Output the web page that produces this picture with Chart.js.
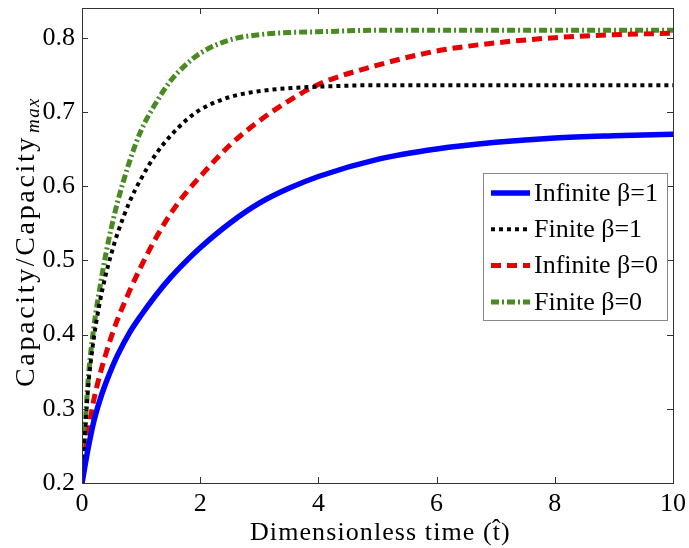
<!DOCTYPE html>
<html>
<head>
<meta charset="utf-8">
<script src="https://cdn.jsdelivr.net/npm/chart.js@4.4.1/dist/chart.umd.min.js"></script>
<style>
  html, body { margin: 0; padding: 0; background: #fff; }
  #wrap { width: 689px; height: 548px; }
</style>
</head>
<body>
<div id="wrap"><canvas id="capChart" width="689" height="548"></canvas></div>
<script>
// time samples (dimensionless)
const times = [0, 0.1, 0.2, 0.3, 0.4, 0.5, 0.6, 0.8, 1, 1.25, 1.5, 1.75, 2, 2.5, 3, 3.5, 4, 5, 6, 7, 8, 9, 10];

// series
const infiniteBeta1 = [0.2, 0.245, 0.283, 0.311, 0.334, 0.354, 0.372, 0.402, 0.426, 0.453, 0.477, 0.498, 0.517, 0.550, 0.577, 0.597, 0.613, 0.636, 0.650, 0.659, 0.665, 0.668, 0.670];
const finiteBeta1   = [0.2, 0.325, 0.395, 0.443, 0.480, 0.510, 0.536, 0.578, 0.610, 0.643, 0.668, 0.688, 0.703, 0.720, 0.728, 0.732, 0.734, 0.736, 0.736, 0.736, 0.736, 0.736, 0.736];
const infiniteBeta0 = [0.2, 0.265, 0.312, 0.345, 0.373, 0.398, 0.420, 0.458, 0.492, 0.530, 0.563, 0.590, 0.613, 0.655, 0.688, 0.715, 0.737, 0.763, 0.782, 0.793, 0.800, 0.804, 0.806];
const finiteBeta0   = [0.2, 0.335, 0.410, 0.462, 0.507, 0.545, 0.578, 0.632, 0.675, 0.712, 0.742, 0.763, 0.779, 0.797, 0.804, 0.807, 0.808, 0.810, 0.810, 0.810, 0.810, 0.810, 0.810];

const seriesNames = ['Infinite β=1', 'Finite β=1', 'Infinite β=0', 'Finite β=0'];

// tick labels
const xTicks = [0, 2, 4, 6, 8, 10];
const yTicks = [0.2, 0.3, 0.4, 0.5, 0.6, 0.7, 0.8];

const serif = '"Liberation Serif", "Times New Roman", serif';
const frameColor = '#333';

function pts(vals) {
    return vals.map((v, i) => ({ x: times[i], y: v }));
}

// draw text stretched to a target width through letter spacing
function fitText(ctx, text, x, y, width) {
    ctx.letterSpacing = '0px';
    const w = ctx.measureText(text).width;
    const extra = (width - w) / text.length;
    ctx.letterSpacing = extra.toFixed(2) + 'px';
    ctx.fillText(text, x, y);
    ctx.letterSpacing = '0px';
}

// MATLAB-like box with inward ticks
const frameBox = {
    id: 'frameBox',
    afterDatasetsDraw(chart) {
        const { ctx, chartArea: a, scales } = chart;
        ctx.save();
        ctx.strokeStyle = frameColor;
        ctx.lineWidth = 1;
        ctx.strokeRect(Math.round(a.left) + 0.5, Math.round(a.top) + 0.5,
            Math.round(a.right - a.left), Math.round(a.bottom - a.top));
        ctx.beginPath();
        xTicks.forEach(t => {
            const px = Math.round(scales.x.getPixelForValue(t)) + 0.5;
            ctx.moveTo(px, a.bottom); ctx.lineTo(px, a.bottom - 6);
            ctx.moveTo(px, a.top); ctx.lineTo(px, a.top + 6);
        });
        yTicks.forEach(t => {
            const py = Math.round(scales.y.getPixelForValue(t)) + 0.5;
            ctx.moveTo(a.left, py); ctx.lineTo(a.left + 6, py);
            ctx.moveTo(a.right, py); ctx.lineTo(a.right - 6, py);
        });
        ctx.stroke();
        ctx.restore();
    }
};

// axis titles (y one has a subscript)
const axisTitles = {
    id: 'axisTitles',
    afterDraw(chart) {
        const { ctx } = chart;
        ctx.save();
        ctx.fillStyle = '#000';
        ctx.textBaseline = 'alphabetic';
        ctx.textAlign = 'left';

        // x title
        ctx.font = '26px ' + serif;
        fitText(ctx, 'Dimensionless time (t\u0302)', 250, 540, 262);

        // y title
        ctx.translate(34, 242);
        ctx.rotate(-Math.PI / 2);
        const mainW = 252, subW = 36;
        const start = -(mainW + subW + 2) / 2;
        ctx.font = '28px ' + serif;
        fitText(ctx, 'Capacity/Capacity', start, 0, mainW);
        ctx.font = 'italic 19px ' + serif;
        fitText(ctx, 'max', start + mainW + 2, 5, subW);
        ctx.restore();
    }
};

// legend box inside the plot
const boxLegend = {
    id: 'boxLegend',
    afterDraw(chart) {
        const { ctx } = chart;
        const bx = 483, by = 173, bw = 184, bh = 147;
        ctx.save();
        ctx.fillStyle = '#fff';
        ctx.fillRect(bx, by, bw, bh);
        ctx.strokeStyle = '#888';
        ctx.lineWidth = 1;
        ctx.strokeRect(bx + 0.5, by + 0.5, bw, bh);
        chart.data.datasets.forEach((ds, i) => {
            const ry = by + 20 + i * 36.3;
            ctx.beginPath();
            ctx.strokeStyle = ds.borderColor;
            ctx.lineWidth = ds.borderWidth;
            ctx.setLineDash(ds.borderDash || []);
            ctx.moveTo(491, ry);
            ctx.lineTo(530, ry);
            ctx.stroke();
            ctx.setLineDash([]);
            ctx.fillStyle = '#000';
            ctx.font = '26px ' + serif;
            ctx.textBaseline = 'middle';
            ctx.fillText(ds.label, 534, ry + 1);
        });
        ctx.restore();
    }
};

new Chart(document.getElementById('capChart').getContext('2d'), {
    type: 'line',
    data: {
        datasets: [
            { label: seriesNames[0], data: pts(infiniteBeta1), borderColor: '#0000ff', borderWidth: 5.5, borderDash: [] },
            { label: seriesNames[1], data: pts(finiteBeta1), borderColor: '#000000', borderWidth: 4, borderDash: [4, 4] },
            { label: seriesNames[2], data: pts(infiniteBeta0), borderColor: '#e60000', borderWidth: 5, borderDash: [10, 6] },
            { label: seriesNames[3], data: pts(finiteBeta0), borderColor: '#4b8a23', borderWidth: 5, borderDash: [8, 3, 2, 3] }
        ]
    },
    options: {
        responsive: false,
        animation: false,
        layout: { padding: { top: 8, right: 16, left: 0, bottom: 0 } },
        elements: {
            point: { radius: 0 },
            line: { cubicInterpolationMode: 'monotone', borderCapStyle: 'butt', fill: false }
        },
        plugins: {
            legend: { display: false },
            tooltip: { enabled: false }
        },
        scales: {
            x: {
                type: 'linear',
                min: 0,
                max: 10,
                afterBuildTicks: s => { s.ticks = xTicks.map(v => ({ value: v })); },
                afterFit: s => { s.height = 65; s.paddingLeft = 0; s.paddingRight = 0; },
                grid: { display: false, drawTicks: false },
                border: { display: false },
                ticks: { color: '#000', padding: 6, maxRotation: 0, font: { family: serif, size: 26 }, callback: v => String(v) }
            },
            y: {
                type: 'linear',
                min: 0.2,
                max: 0.84,
                afterBuildTicks: s => { s.ticks = yTicks.map(v => ({ value: v })); },
                afterFit: s => { s.width = 82; s.paddingTop = 0; s.paddingBottom = 0; },
                grid: { display: false, drawTicks: false },
                border: { display: false },
                ticks: { color: '#000', padding: 7, font: { family: serif, size: 26 }, callback: v => v.toFixed(1) }
            }
        }
    },
    plugins: [frameBox, axisTitles, boxLegend]
});
</script>
</body>
</html>
